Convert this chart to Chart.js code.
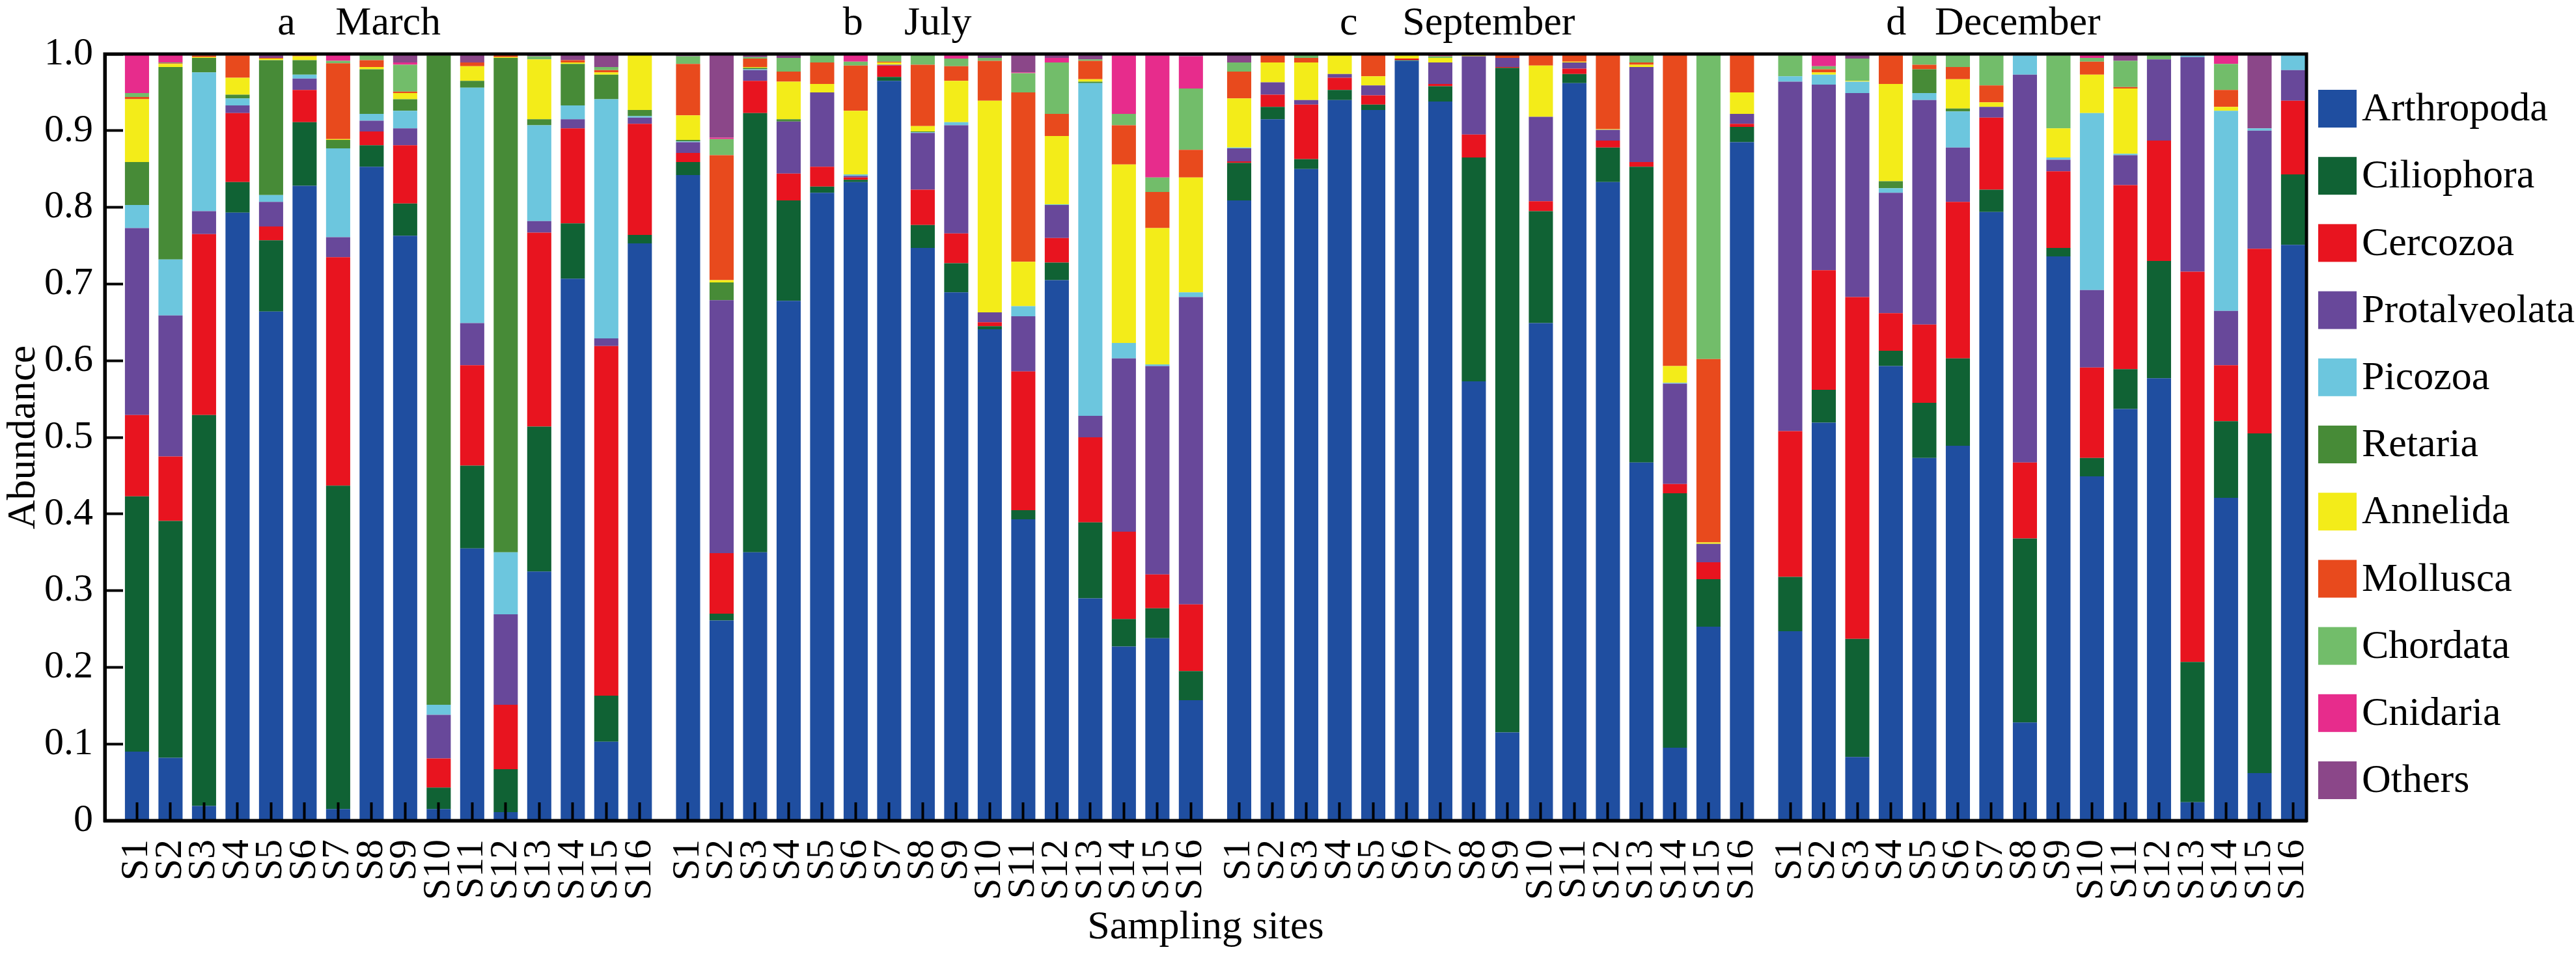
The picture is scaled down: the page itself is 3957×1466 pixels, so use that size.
<!DOCTYPE html>
<html>
<head>
<meta charset="utf-8">
<script src="https://cdn.jsdelivr.net/npm/chart.js@4.4.0/dist/chart.umd.min.js"></script>
<style>
  html, body { margin: 0; padding: 0; background: #fff; }
  #wrap { width: 3957px; height: 1466px; }
</style>
</head>
<body>
<div id="wrap"><canvas id="c" width="3957" height="1466"></canvas></div>
<script>
// ---------- data ----------
const sites = ['S1','S2','S3','S4','S5','S6','S7','S8','S9','S10','S11','S12','S13','S14','S15','S16'];
const months = ['March', 'July', 'September', 'December'];
const panelLetters = ['a', 'b', 'c', 'd'];
const taxa = ['Arthropoda','Ciliophora','Cercozoa','Protalveolata','Picozoa','Retaria','Annelida','Mollusca','Chordata','Cnidaria','Others'];
const yTickLabels = ['0','0.1','0.2','0.3','0.4','0.5','0.6','0.7','0.8','0.9','1.0'];

// values per taxon: March S1-S16, July S1-S16, September S1-S16, December S1-S16
const arthropoda = [
  0.090,0.082,0.019,0.793,0.664,0.828,0.015,0.853,0.763,0.015,0.355,0.011,0.325,0.707,0.103,0.753,
  0.842,0.261,0.350,0.678,0.819,0.833,0.965,0.747,0.689,0.641,0.393,0.705,0.290,0.227,0.238,0.157,
  0.809,0.915,0.850,0.940,0.927,0.991,0.938,0.573,0.115,0.649,0.962,0.833,0.467,0.095,0.253,0.885,
  0.247,0.519,0.083,0.593,0.473,0.489,0.794,0.128,0.736,0.449,0.537,0.577,0.024,0.421,0.062,0.751];
const ciliophora = [
  0.333,0.309,0.510,0.040,0.093,0.083,0.422,0.028,0.042,0.028,0.108,0.056,0.189,0.072,0.060,0.011,
  0.017,0.009,0.573,0.131,0.008,0.003,0.005,0.030,0.038,0.004,0.012,0.023,0.099,0.036,0.039,0.038,
  0.049,0.016,0.013,0.013,0.007,0.001,0.020,0.292,0.867,0.146,0.012,0.045,0.386,0.332,0.062,0.020,
  0.071,0.043,0.154,0.020,0.072,0.114,0.029,0.240,0.011,0.024,0.052,0.153,0.183,0.100,0.443,0.092];
const cercozoa = [
  0.106,0.084,0.236,0.090,0.018,0.042,0.298,0.018,0.076,0.038,0.131,0.084,0.253,0.124,0.456,0.145,
  0.012,0.079,0.042,0.035,0.026,0.003,0.015,0.046,0.039,0.005,0.181,0.032,0.111,0.114,0.044,0.087,
  0.002,0.016,0.071,0.016,0.012,0.002,0.003,0.030,0.001,0.013,0.007,0.009,0.006,0.012,0.022,0.004,
  0.190,0.156,0.446,0.049,0.102,0.204,0.094,0.099,0.100,0.118,0.240,0.157,0.509,0.073,0.241,0.096];
const protalveolata = [
  0.244,0.184,0.030,0.010,0.032,0.015,0.026,0.014,0.022,0.057,0.055,0.118,0.015,0.012,0.010,0.008,
  0.014,0.330,0.014,0.068,0.097,0.002,0.001,0.074,0.141,0.013,0.072,0.043,0.028,0.226,0.272,0.401,
  0.017,0.016,0.006,0.005,0.013,0.000,0.028,0.102,0.012,0.110,0.008,0.014,0.124,0.131,0.024,0.013,
  0.456,0.242,0.266,0.157,0.293,0.071,0.014,0.506,0.015,0.101,0.039,0.106,0.280,0.071,0.154,0.040];
const picozoa = [
  0.030,0.073,0.181,0.009,0.009,0.005,0.116,0.009,0.023,0.013,0.307,0.081,0.125,0.018,0.312,0.002,
  0.001,0.000,0.001,0.000,0.000,0.002,0.000,0.001,0.004,0.000,0.013,0.001,0.434,0.020,0.002,0.006,
  0.001,0.000,0.000,0.000,0.000,0.000,0.000,0.000,0.000,0.000,0.000,0.000,0.000,0.001,0.000,0.000,
  0.007,0.013,0.015,0.006,0.009,0.047,0.000,0.025,0.003,0.231,0.002,0.000,0.002,0.261,0.003,0.019];
const retaria = [
  0.056,0.251,0.019,0.005,0.176,0.019,0.011,0.058,0.015,0.847,0.009,0.645,0.008,0.054,0.032,0.008,
  0.002,0.023,0.002,0.003,0.000,0.000,0.000,0.001,0.000,0.000,0.000,0.000,0.002,0.000,0.000,0.000,
  0.000,0.000,0.000,0.000,0.000,0.000,0.000,0.000,0.000,0.000,0.000,0.000,0.000,0.000,0.000,0.000,
  0.000,0.000,0.000,0.009,0.031,0.004,0.000,0.000,0.000,0.000,0.000,0.000,0.000,0.000,0.000,0.000];
const annelida = [
  0.082,0.004,0.001,0.022,0.002,0.005,0.001,0.003,0.008,0.000,0.019,0.001,0.078,0.002,0.003,0.072,
  0.032,0.003,0.001,0.049,0.011,0.083,0.003,0.007,0.054,0.276,0.058,0.089,0.003,0.233,0.178,0.150,
  0.064,0.026,0.049,0.024,0.012,0.004,0.006,0.002,0.000,0.067,0.001,0.001,0.003,0.022,0.002,0.028,
  0.000,0.003,0.001,0.127,0.000,0.038,0.006,0.000,0.038,0.050,0.085,0.000,0.000,0.005,0.000,0.000];
const mollusca = [
  0.003,0.001,0.002,0.029,0.001,0.001,0.099,0.009,0.002,0.001,0.005,0.004,0.000,0.003,0.003,0.000,
  0.067,0.163,0.011,0.013,0.028,0.059,0.001,0.080,0.019,0.052,0.221,0.029,0.024,0.051,0.047,0.036,
  0.035,0.009,0.006,0.000,0.029,0.002,0.000,0.000,0.005,0.013,0.010,0.097,0.003,0.407,0.239,0.049,
  0.000,0.004,0.000,0.037,0.006,0.016,0.022,0.000,0.000,0.017,0.002,0.000,0.000,0.022,0.000,0.000];
const chordata = [
  0.005,0.001,0.000,0.000,0.000,0.000,0.003,0.008,0.035,0.000,0.000,0.000,0.004,0.000,0.004,0.000,
  0.010,0.021,0.002,0.018,0.010,0.005,0.009,0.013,0.010,0.004,0.025,0.067,0.002,0.015,0.019,0.080,
  0.012,0.000,0.005,0.000,0.000,0.000,0.002,0.000,0.000,0.000,0.000,0.000,0.011,0.000,0.398,0.001,
  0.027,0.004,0.029,0.001,0.012,0.017,0.039,0.000,0.095,0.005,0.034,0.007,0.000,0.034,0.000,0.002];
const cnidaria = [
  0.051,0.011,0.000,0.000,0.000,0.000,0.009,0.000,0.003,0.001,0.000,0.002,0.000,0.000,0.000,0.001,
  0.000,0.002,0.000,0.000,0.001,0.010,0.000,0.000,0.005,0.000,0.001,0.006,0.000,0.076,0.159,0.042,
  0.000,0.002,0.000,0.002,0.000,0.000,0.003,0.001,0.000,0.002,0.000,0.001,0.000,0.000,0.000,0.000,
  0.002,0.016,0.000,0.000,0.002,0.000,0.000,0.002,0.002,0.005,0.000,0.000,0.000,0.013,0.000,0.000];
const others = [
  0.000,0.000,0.002,0.002,0.005,0.002,0.000,0.000,0.011,0.000,0.011,0.000,0.003,0.008,0.017,0.000,
  0.003,0.109,0.004,0.005,0.000,0.000,0.001,0.001,0.001,0.005,0.024,0.005,0.007,0.002,0.002,0.003,
  0.011,0.000,0.000,0.000,0.000,0.000,0.000,0.000,0.000,0.000,0.000,0.000,0.000,0.000,0.000,0.000,
  0.000,0.000,0.006,0.001,0.000,0.000,0.002,0.000,0.000,0.000,0.009,0.000,0.002,0.000,0.097,0.000];

const seriesValues = [arthropoda, ciliophora, cercozoa, protalveolata, picozoa, retaria, annelida, mollusca, chordata, cnidaria, others];
const taxonColors = ['#1f4ea0','#106234','#e8141f','#68489a','#6cc6de','#478b37','#f3ec19','#e84a1d','#72bd6a','#e72c8c','#8b4789'];

// ---------- layout ----------
const FONT = "'Liberation Serif', 'Times New Roman', serif";
const GROUP_STEP = 16.44;          // spacing between panels in category units
const siteCount = sites.length;
const positionOf = k => Math.floor(k / siteCount) * GROUP_STEP + (k % siteCount);
const allLabels = [];
months.forEach(() => sites.forEach(s => allLabels.push(s)));
const xPositions = allLabels.map((_, k) => positionOf(k));

const datasets = taxa.map((name, t) => ({
  label: name,
  data: seriesValues[t].map((v, k) => ({ x: positionOf(k), y: v })),
  backgroundColor: taxonColors[t],
  borderWidth: 0,
  categoryPercentage: 1.0,
  barPercentage: 0.72
}));

const zeroPadding = s => { s.paddingLeft = 0; s.paddingRight = 0; s.paddingTop = 0; s.paddingBottom = 0; };

const framePlugin = {
  id: 'frame',
  afterDatasetsDraw(chart) {
    const { ctx, chartArea: a } = chart;
    ctx.save();
    ctx.strokeStyle = '#000';
    ctx.lineWidth = 5;
    ctx.strokeRect(a.left, a.top, a.right - a.left, a.bottom - a.top);
    ctx.restore();
  }
};

const panelTitlePlugin = {
  id: 'panelTitles',
  afterDraw(chart) {
    const { ctx } = chart;
    const xs = chart.scales.x;
    const letterOffset = [4.19, 4.62, 3.0, 2.86];
    const monthOffset = [5.92, 6.45, 4.87, 4.31];
    ctx.save();
    ctx.fillStyle = '#000';
    ctx.font = `62px ${FONT}`;
    ctx.textAlign = 'left';
    ctx.textBaseline = 'alphabetic';
    months.forEach((m, g) => {
      const base = g * GROUP_STEP;
      ctx.fillText(panelLetters[g], xs.getPixelForValue(base + letterOffset[g]), 53);
      ctx.fillText(m, xs.getPixelForValue(base + monthOffset[g]), 53);
    });
    ctx.restore();
  }
};

const legendPlugin = {
  id: 'sideLegend',
  afterDraw(chart) {
    const { ctx, chartArea: a } = chart;
    const x0 = a.right + 18;
    const rowH = 103.2;
    const y0 = 167;
    ctx.save();
    ctx.font = `62px ${FONT}`;
    ctx.textAlign = 'left';
    ctx.textBaseline = 'middle';
    chart.data.datasets.forEach((ds, i) => {
      const cy = y0 + i * rowH;
      ctx.fillStyle = ds.backgroundColor;
      ctx.fillRect(x0, cy - 29, 59, 58);
      ctx.fillStyle = '#000';
      ctx.fillText(ds.label, x0 + 67, cy + 2);
    });
    ctx.restore();
  }
};

new Chart(document.getElementById('c'), {
  type: 'bar',
  data: { datasets },
  plugins: [framePlugin, panelTitlePlugin, legendPlugin],
  options: {
    responsive: false,
    devicePixelRatio: 1,
    animation: false,
    layout: { padding: { top: 83, right: 414, bottom: 0, left: 0 } },
    plugins: { legend: { display: false }, tooltip: { enabled: false }, title: { display: false } },
    scales: {
      x: {
        type: 'linear',
        stacked: true,
        offset: false,
        min: -0.96,
        max: 3 * GROUP_STEP + 15.4,
        afterBuildTicks: axis => { axis.ticks = xPositions.map(v => ({ value: v })); },
        afterFit: s => { s.height = 205; zeroPadding(s); },
        ticks: {
          autoSkip: false,
          maxRotation: 90,
          minRotation: 90,
          padding: 57,
          color: '#000',
          font: { family: FONT, size: 60 },
          callback: (v, i) => allLabels[i]
        },
        grid: { display: true, offset: false, drawOnChartArea: false, drawTicks: true, tickLength: -28, tickWidth: 4, tickColor: '#000', z: 1 },
        border: { display: true, color: '#000', width: 5, z: 1 },
        title: { display: true, text: 'Sampling sites', color: '#000', font: { family: FONT, size: 62 }, padding: { top: 0, bottom: 3 } }
      },
      y: {
        stacked: true,
        min: 0,
        max: 1,
        afterFit: s => { s.width = 161; zeroPadding(s); },
        ticks: {
          stepSize: 0.1,
          padding: 46,
          color: '#000',
          font: { family: FONT, size: 60 },
          callback: (v, i) => yTickLabels[i]
        },
        grid: { display: true, drawOnChartArea: false, drawTicks: true, tickLength: -28, tickWidth: 4, tickColor: '#000', z: 1 },
        border: { display: true, color: '#000', width: 5, z: 1 },
        title: { display: true, text: 'Abundance', color: '#000', font: { family: FONT, size: 62 }, padding: { top: 0, bottom: 0 } }
      }
    }
  }
});
</script>
</body>
</html>
